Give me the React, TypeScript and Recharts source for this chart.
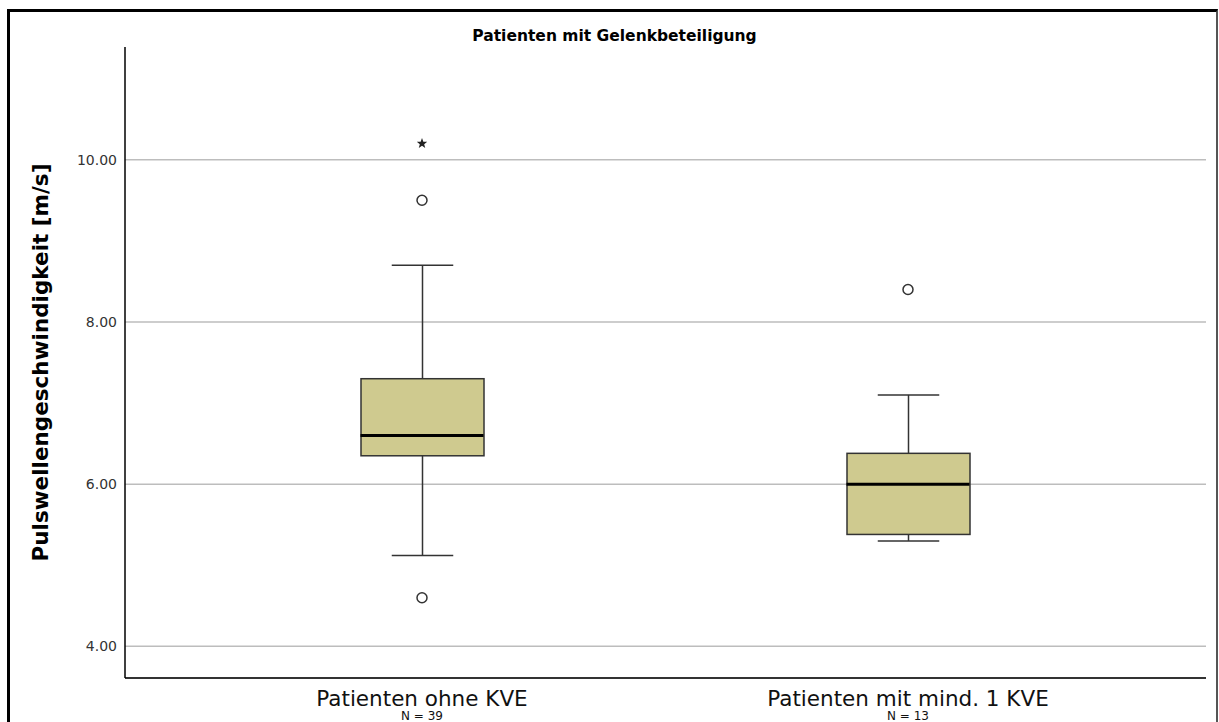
import {
  ComposedChart,
  Bar,
  Scatter,
  XAxis,
  YAxis,
  CartesianGrid,
} from 'recharts';

const categories = ['Patienten ohne KVE', 'Patienten mit mind. 1 KVE'];
const counts = [39, 13];
const whiskerLow = [5.12, 5.3];
const q1 = [6.35, 5.38];
const median = [6.6, 6.0];
const q3 = [7.3, 6.38];
const whiskerHigh = [8.7, 7.1];
const outlierHigh: (number | null)[] = [9.5, 8.4];
const outlierLow: (number | null)[] = [4.6, null];
const extremeHigh: (number | null)[] = [10.2, null];
const yTicks = [4, 6, 8, 10];

const data = categories.map((cat, i) => ({
  cat,
  n: counts[i],
  whisker: [whiskerLow[i], whiskerHigh[i]],
  box: [q1[i], q3[i]],
  median: median[i],
  outHigh: outlierHigh[i],
  outLow: outlierLow[i],
  extreme: extremeHigh[i],
}));

const FONT = '"DejaVu Sans", sans-serif';
const BOX_W = 123;
const PAD = { left: 54, right: 55 };

function WhiskerShape({ x, y, width, height }: any) {
  if (x == null || y == null) return null;
  const cx = x + width / 2;
  const half = width / 4;
  return (
    <g stroke="#333" strokeWidth={1.5}>
      <line x1={cx} x2={cx} y1={y} y2={y + height} />
      <line x1={cx - half} x2={cx + half} y1={y} y2={y} />
      <line x1={cx - half} x2={cx + half} y1={y + height} y2={y + height} />
    </g>
  );
}

function BoxShape({ x, y, width, height }: any) {
  if (x == null || y == null) return null;
  return <rect x={x} y={y} width={width} height={height} fill="#cfca8f" stroke="#333" strokeWidth={1.5} />;
}

function MedianShape({ cx, cy }: any) {
  if (cx == null || cy == null || isNaN(cy)) return null;
  return <line x1={cx - BOX_W / 2} x2={cx + BOX_W / 2} y1={cy} y2={cy} stroke="#000" strokeWidth={3} />;
}

function CircleShape({ cx, cy, payload, dataKey }: any) {
  if (cx == null || cy == null || isNaN(cy)) return null;
  if (payload && dataKey && payload[dataKey] == null) return null;
  return <circle cx={cx} cy={cy} r={5} fill="#fff" stroke="#333" strokeWidth={1.5} />;
}

function StarShape({ cx, cy, payload }: any) {
  if (cx == null || cy == null || isNaN(cy)) return null;
  if (payload && payload.extreme == null) return null;
  const pts: string[] = [];
  for (let k = 0; k < 10; k++) {
    const r = k % 2 === 0 ? 5.5 : 2.3;
    const a = -Math.PI / 2 + (k * Math.PI) / 5;
    pts.push(`${cx + r * Math.cos(a)},${cy + r * Math.sin(a)}`);
  }
  return <polygon points={pts.join(' ')} fill="#222" />;
}

function CategoryTick({ x, y, payload }: any) {
  const i = categories.indexOf(payload.value);
  return (
    <g>
      <text x={x} y={y} dy={20} textAnchor="middle" fill="#111" fontSize={21.5} fontFamily={FONT}>
        {payload.value}
      </text>
      <text x={x} y={y} dy={34} textAnchor="middle" fill="#111" fontSize={12} fontFamily={FONT}>
        {`N = ${counts[i]}`}
      </text>
    </g>
  );
}

export default function App() {
  return (
    <div style={{ position: 'absolute', left: 0, top: 0, width: 1219, height: 722, overflow: 'hidden', background: '#fff' }}>
      <div
        style={{
          position: 'absolute',
          left: 7,
          top: 9,
          width: 1211,
          height: 800,
          boxSizing: 'border-box',
          borderTop: '3px solid #000',
          borderLeft: '3px solid #000',
          borderRight: '2px solid #555',
        }}
      />
      <div
        style={{
          position: 'absolute',
          left: 0,
          width: 1229,
          top: 27,
          textAlign: 'center',
          fontFamily: FONT,
          fontWeight: 'bold',
          fontSize: 15.5,
          color: '#000',
        }}
      >
        Patienten mit Gelenkbeteiligung
      </div>
      <div style={{ position: 'absolute', left: 0, top: 0 }}>
        <ComposedChart width={1219} height={722} data={data} margin={{ top: 47, right: 13, bottom: 4, left: 65 }}>
          <CartesianGrid xAxisId="main" vertical={false} horizontalValues={yTicks} stroke="#bdbdbd" strokeWidth={1.5} />
          <XAxis
            xAxisId="main"
            dataKey="cat"
            padding={PAD}
            height={40}
            axisLine={{ stroke: '#333', strokeWidth: 2 }}
            tickLine={false}
            tick={<CategoryTick />}
            interval={0}
          />
          <XAxis xAxisId="wh" dataKey="cat" padding={PAD} orientation="top" height={0} hide />
          <XAxis xAxisId="box" dataKey="cat" padding={PAD} orientation="top" height={0} hide />
          <YAxis
            type="number"
            domain={[3.61, 11.39]}
            allowDataOverflow
            ticks={yTicks}
            width={60}
            tickFormatter={(v: number) => v.toFixed(2)}
            tick={{ fill: '#333', fontSize: 14, fontFamily: FONT }}
            axisLine={{ stroke: '#000', strokeWidth: 1.5 }}
            tickLine={false}
            label={{
              value: 'Pulswellengeschwindigkeit [m/s]',
              angle: -90,
              position: 'left',
              offset: 25,
              style: { fontFamily: FONT, fontWeight: 'bold', fontSize: 21.5, fill: '#000', textAnchor: 'middle' },
            }}
          />
          <Bar xAxisId="wh" dataKey="whisker" barSize={BOX_W} shape={<WhiskerShape />} isAnimationActive={false} />
          <Bar xAxisId="box" dataKey="box" barSize={BOX_W} shape={<BoxShape />} isAnimationActive={false} />
          <Scatter xAxisId="main" dataKey="median" shape={<MedianShape />} isAnimationActive={false} />
          <Scatter xAxisId="main" dataKey="outHigh" shape={(p: any) => <CircleShape {...p} dataKey="outHigh" />} isAnimationActive={false} />
          <Scatter xAxisId="main" dataKey="outLow" shape={(p: any) => <CircleShape {...p} dataKey="outLow" />} isAnimationActive={false} />
          <Scatter xAxisId="main" dataKey="extreme" shape={<StarShape />} isAnimationActive={false} />
        </ComposedChart>
      </div>
    </div>
  );
}
